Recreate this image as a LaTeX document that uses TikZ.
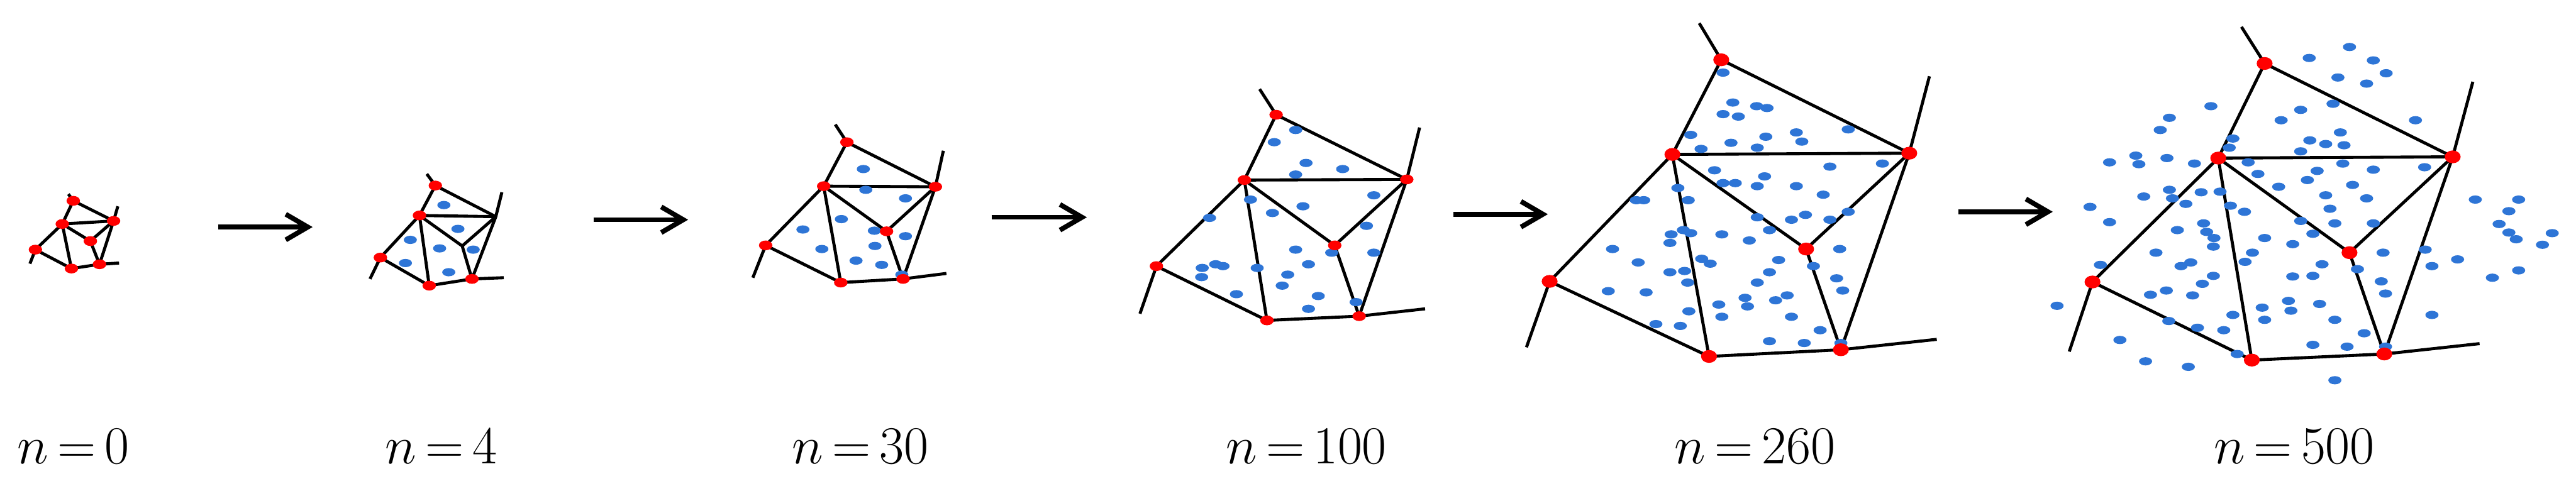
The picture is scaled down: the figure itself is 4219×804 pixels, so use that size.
\documentclass[tikz,border=0pt]{standalone}
\usetikzlibrary{shapes.geometric,arrows.meta}
\definecolor{dotblue}{RGB}{46,117,214}
\definecolor{dotred}{RGB}{255,0,0}
\tikzset{
  edge/.style={line width=0.05cm, black, line join=round},
  bdot/.style={ellipse, fill=dotblue, draw=none, inner sep=0pt, minimum width=0.215cm, minimum height=0.135cm},
  rdotsmall/.style={ellipse, fill=dotred, draw=none, inner sep=0pt, minimum width=0.22cm, minimum height=0.16cm},
  rdotbig/.style={ellipse, fill=dotred, draw=none, inner sep=0pt, minimum width=0.26cm, minimum height=0.21cm},
  stagearrow/.style={line width=0.08cm, black, -{Straight Barb[length=0.36cm, width=0.42cm]}},
  lbl/.style={font=\fontsize{23}{27}\selectfont, inner sep=0pt, anchor=base west}
}
\newcommand\meshedges[1]{%
  \draw[edge] (#1ta) -- (#1A) -- (#1C) -- (#1tc)
    (#1A) -- (#1B) -- (#1C) -- (#1G) -- (#1tg)
    (#1B) -- (#1D) -- (#1C)
    (#1D) -- (#1G) -- (#1F) -- (#1B) -- (#1E) -- (#1te)
    (#1E) -- (#1F);}
\begin{document}
\begin{tikzpicture}[x=0.01cm, y=-0.01cm]
\useasboundingbox (0,0) rectangle (4219,804);

% ---------- panel 1 ----------
\coordinate (p1ta) at (112,318);
\coordinate (p1A) at (120,329);
\coordinate (p1B) at (102,367);
\coordinate (p1C) at (186,362);
\coordinate (p1D) at (148,395);
\coordinate (p1E) at (58,409);
\coordinate (p1F) at (117,440);
\coordinate (p1G) at (163,433);
\coordinate (p1tc) at (193,338);
\coordinate (p1te) at (49,432);
\coordinate (p1tg) at (195,431);
\meshedges{p1}
\foreach \v in {A,B,C,D,E,F,G} \node[rdotsmall] (r1\v) at (p1\v) {};

% ---------- panel 2 ----------
\coordinate (p2ta) at (699,285);
\coordinate (p2A) at (713,304);
\coordinate (p2B) at (687,353);
\coordinate (p2C) at (812,355);
\coordinate (p2D) at (757,403);
\coordinate (p2E) at (623,422);
\coordinate (p2F) at (703,468);
\coordinate (p2G) at (773,457);
\coordinate (p2tc) at (822,315);
\coordinate (p2te) at (606,457);
\coordinate (p2tg) at (825,455);
\meshedges{p2}
\foreach \x/\y [count=\i] in {727/336,750/375,672/393,720/407,775/409,664/431,735/446}
  \node[bdot] (b2-\i) at (\x,\y) {};
\foreach \v in {A,B,E,F,G} \node[rdotsmall] (r2\v) at (p2\v) {};

% ---------- panel 3 ----------
\coordinate (p3ta) at (1368,204);
\coordinate (p3A) at (1387,233);
\coordinate (p3B) at (1349,305);
\coordinate (p3C) at (1532,306);
\coordinate (p3D) at (1452,379);
\coordinate (p3E) at (1254,402);
\coordinate (p3F) at (1377,463);
\coordinate (p3G) at (1479,457);
\coordinate (p3tc) at (1545,247);
\coordinate (p3te) at (1233,455);
\coordinate (p3tg) at (1550,448);
\meshedges{p3}
\foreach \x/\y [count=\i] in {1414/277,1418/311,1483/325,1378/359,1315/376,1432/378,1483/387,1346/408,1433/403,1402/427,1444/434,1477/450}
  \node[bdot] (b3-\i) at (\x,\y) {};
\foreach \v in {A,B,C,D,E,F,G} \node[rdotsmall] (r3\v) at (p3\v) {};

% ---------- panel 4 ----------
\coordinate (p4ta) at (2063,146);
\coordinate (p4A) at (2090,188);
\coordinate (p4B) at (2038,295);
\coordinate (p4C) at (2304,294);
\coordinate (p4D) at (2186,402);
\coordinate (p4E) at (1894,436);
\coordinate (p4F) at (2075,525);
\coordinate (p4G) at (2226,518);
\coordinate (p4tc) at (2325,209);
\coordinate (p4te) at (1867,514);
\coordinate (p4tg) at (2334,506);
\meshedges{p4}
\foreach \x/\y [count=\i] in {2122/213,2087/233,2139/267,2199/277,2122/286,2250/320,2048/327,2134/338,2084/349,1981/357,2238/370,2122/409,2181/414,2250/414,1991/433,2003/436,1969/439,2059/439,2143/433,1968/454,2109/450,2100/468,2025/482,2159/485,2221/495,2143/506}
  \node[bdot] (b4-\i) at (\x,\y) {};
\foreach \v in {A,B,C,D,E,F,G} \node[rdotsmall] (r4\v) at (p4\v) {};

% ---------- panel 5 ----------
\coordinate (p5ta) at (2783,38);
\coordinate (p5A) at (2819,98);
\coordinate (p5B) at (2739,253);
\coordinate (p5C) at (3127,251);
\coordinate (p5D) at (2958,408);
\coordinate (p5E) at (2538,461);
\coordinate (p5F) at (2799,584);
\coordinate (p5G) at (3015,573);
\coordinate (p5tc) at (3160,125);
\coordinate (p5te) at (2500,569);
\coordinate (p5tg) at (3172,556);
\meshedges{p5}
\foreach \x/\y [count=\i] in {2822/119,2838/168,2877/174,2894/177,2822/187,2847/191,2769/221,2892/224,2942/217,2951/232,3027/212,2835/234,2878/242,2786/244,2997/273,3083/268,2808/279,2890/289,2822/300,2842/300,2878/305,2942/305,2986/319,2748/308,2765/328,2680/328,2692/328,2878/356,2934/360,2957/352,2997/360,3027/347,2898/377,2757/377,2769/382,2737/384,2735/398,2820/384,2865/394,2641/408,2683/430,2787/424,2801/432,2913/426,3013/408,2970/436,2735/446,2759/444,2764/463,2898/446,2878/463,3008/456,3018/476,2634/477,2696/479,2858/488,2908/492,2927/484,2815/499,2862/502,2766/510,2820/519,2934/519,2712/531,2752/534,2981/541,2898/559,2955/562,3015/562}
  \node[bdot] (b5-\i) at (\x,\y) {};
\foreach \v in {A,B,C,D,E,F,G} \node[rdotbig] (r5\v) at (p5\v) {};

% ---------- panel 6 ----------
\coordinate (p6ta) at (3671,44);
\coordinate (p6A) at (3709,104);
\coordinate (p6B) at (3633,259);
\coordinate (p6C) at (4017,257);
\coordinate (p6D) at (3848,414);
\coordinate (p6E) at (3427,462);
\coordinate (p6F) at (3688,590);
\coordinate (p6G) at (3905,580);
\coordinate (p6tc) at (4050,134);
\coordinate (p6te) at (3389,576);
\coordinate (p6tg) at (4061,563);
\meshedges{p6}
\foreach \x/\y [count=\i] in {3848/77,3782/95,3887/99,3908/120,3829/127,3876/137,3621/174,3821/170,3768/180,3736/197,3956/197,3553/193,3538/213,3833/217,3657/227,3783/230,3809/236,3839/238,3651/242,3768/248,3498/255,3455/266,3503/269,3549/259,3594/268,3682/266,3837/268,3971/274,3795/280,3887/278,3698/285,3779/295,3732/306,3853/303,3553/311,3511/322,3605/315,3636/314,3558/325,3580/334,3809/320,3876/325,3423/339,3653/337,3676/347,3816/342,3455/364,3768/362,3824/366,3887/366,3609/366,3566/377,3614/380,3626/390,3625/404,3788/383,3709/390,3755/400,3531/414,3689/414,3903/414,3972/409,4025/425,3440/434,3588/430,3572/436,3677/429,3803/433,3861/441,3983/436,3625/452,3755/453,3788/452,3607/465,3548/476,3522/483,3591/484,3900/461,3907/481,3369/501,3748/493,3799/498,3705/504,3752/509,3657/516,3709/524,3824/524,3983/516,3552/526,3599/537,3642/541,3872/546,3472/557,3788/565,3844/568,3907/568,3664/580,3514/592,3584/601,3824/623,4054/327,4125/327,4109/346,4093/367,4109/381,4121/392,4180/382,4164/401,4125/443,4082/455}
  \node[bdot] (b6-\i) at (\x,\y) {};
\foreach \v in {A,B,C,D,E,F,G} \node[rdotbig] (r6\v) at (p6\v) {};

% ---------- arrows between stages ----------
\coordinate (a1s) at (357,372); \coordinate (a1e) at (512,372);
\coordinate (a2s) at (972,360); \coordinate (a2e) at (1127,360);
\coordinate (a3s) at (1624,356); \coordinate (a3e) at (1780,356);
\coordinate (a4s) at (2380,351); \coordinate (a4e) at (2535,351);
\coordinate (a5s) at (3207,347); \coordinate (a5e) at (3362,347);
\foreach \k in {1,...,5} \draw[stagearrow] (a\k s) -- (a\k e);

% ---------- labels ----------
\node[lbl] (l1) at (28,760) {\thickmuskip=3mu $n = 0$};
\node[lbl] (l2) at (630,760) {\thickmuskip=3mu $n = 4$};
\node[lbl] (l3) at (1297,760) {\thickmuskip=3mu $n = 30$};
\node[lbl] (l4) at (2007,760) {\thickmuskip=3mu $n = 100$};
\node[lbl] (l5) at (2742,760) {\thickmuskip=3mu $n = 260$};
\node[lbl] (l6) at (3625,760) {\thickmuskip=3mu $n = 500$};
\end{tikzpicture}
\end{document}
